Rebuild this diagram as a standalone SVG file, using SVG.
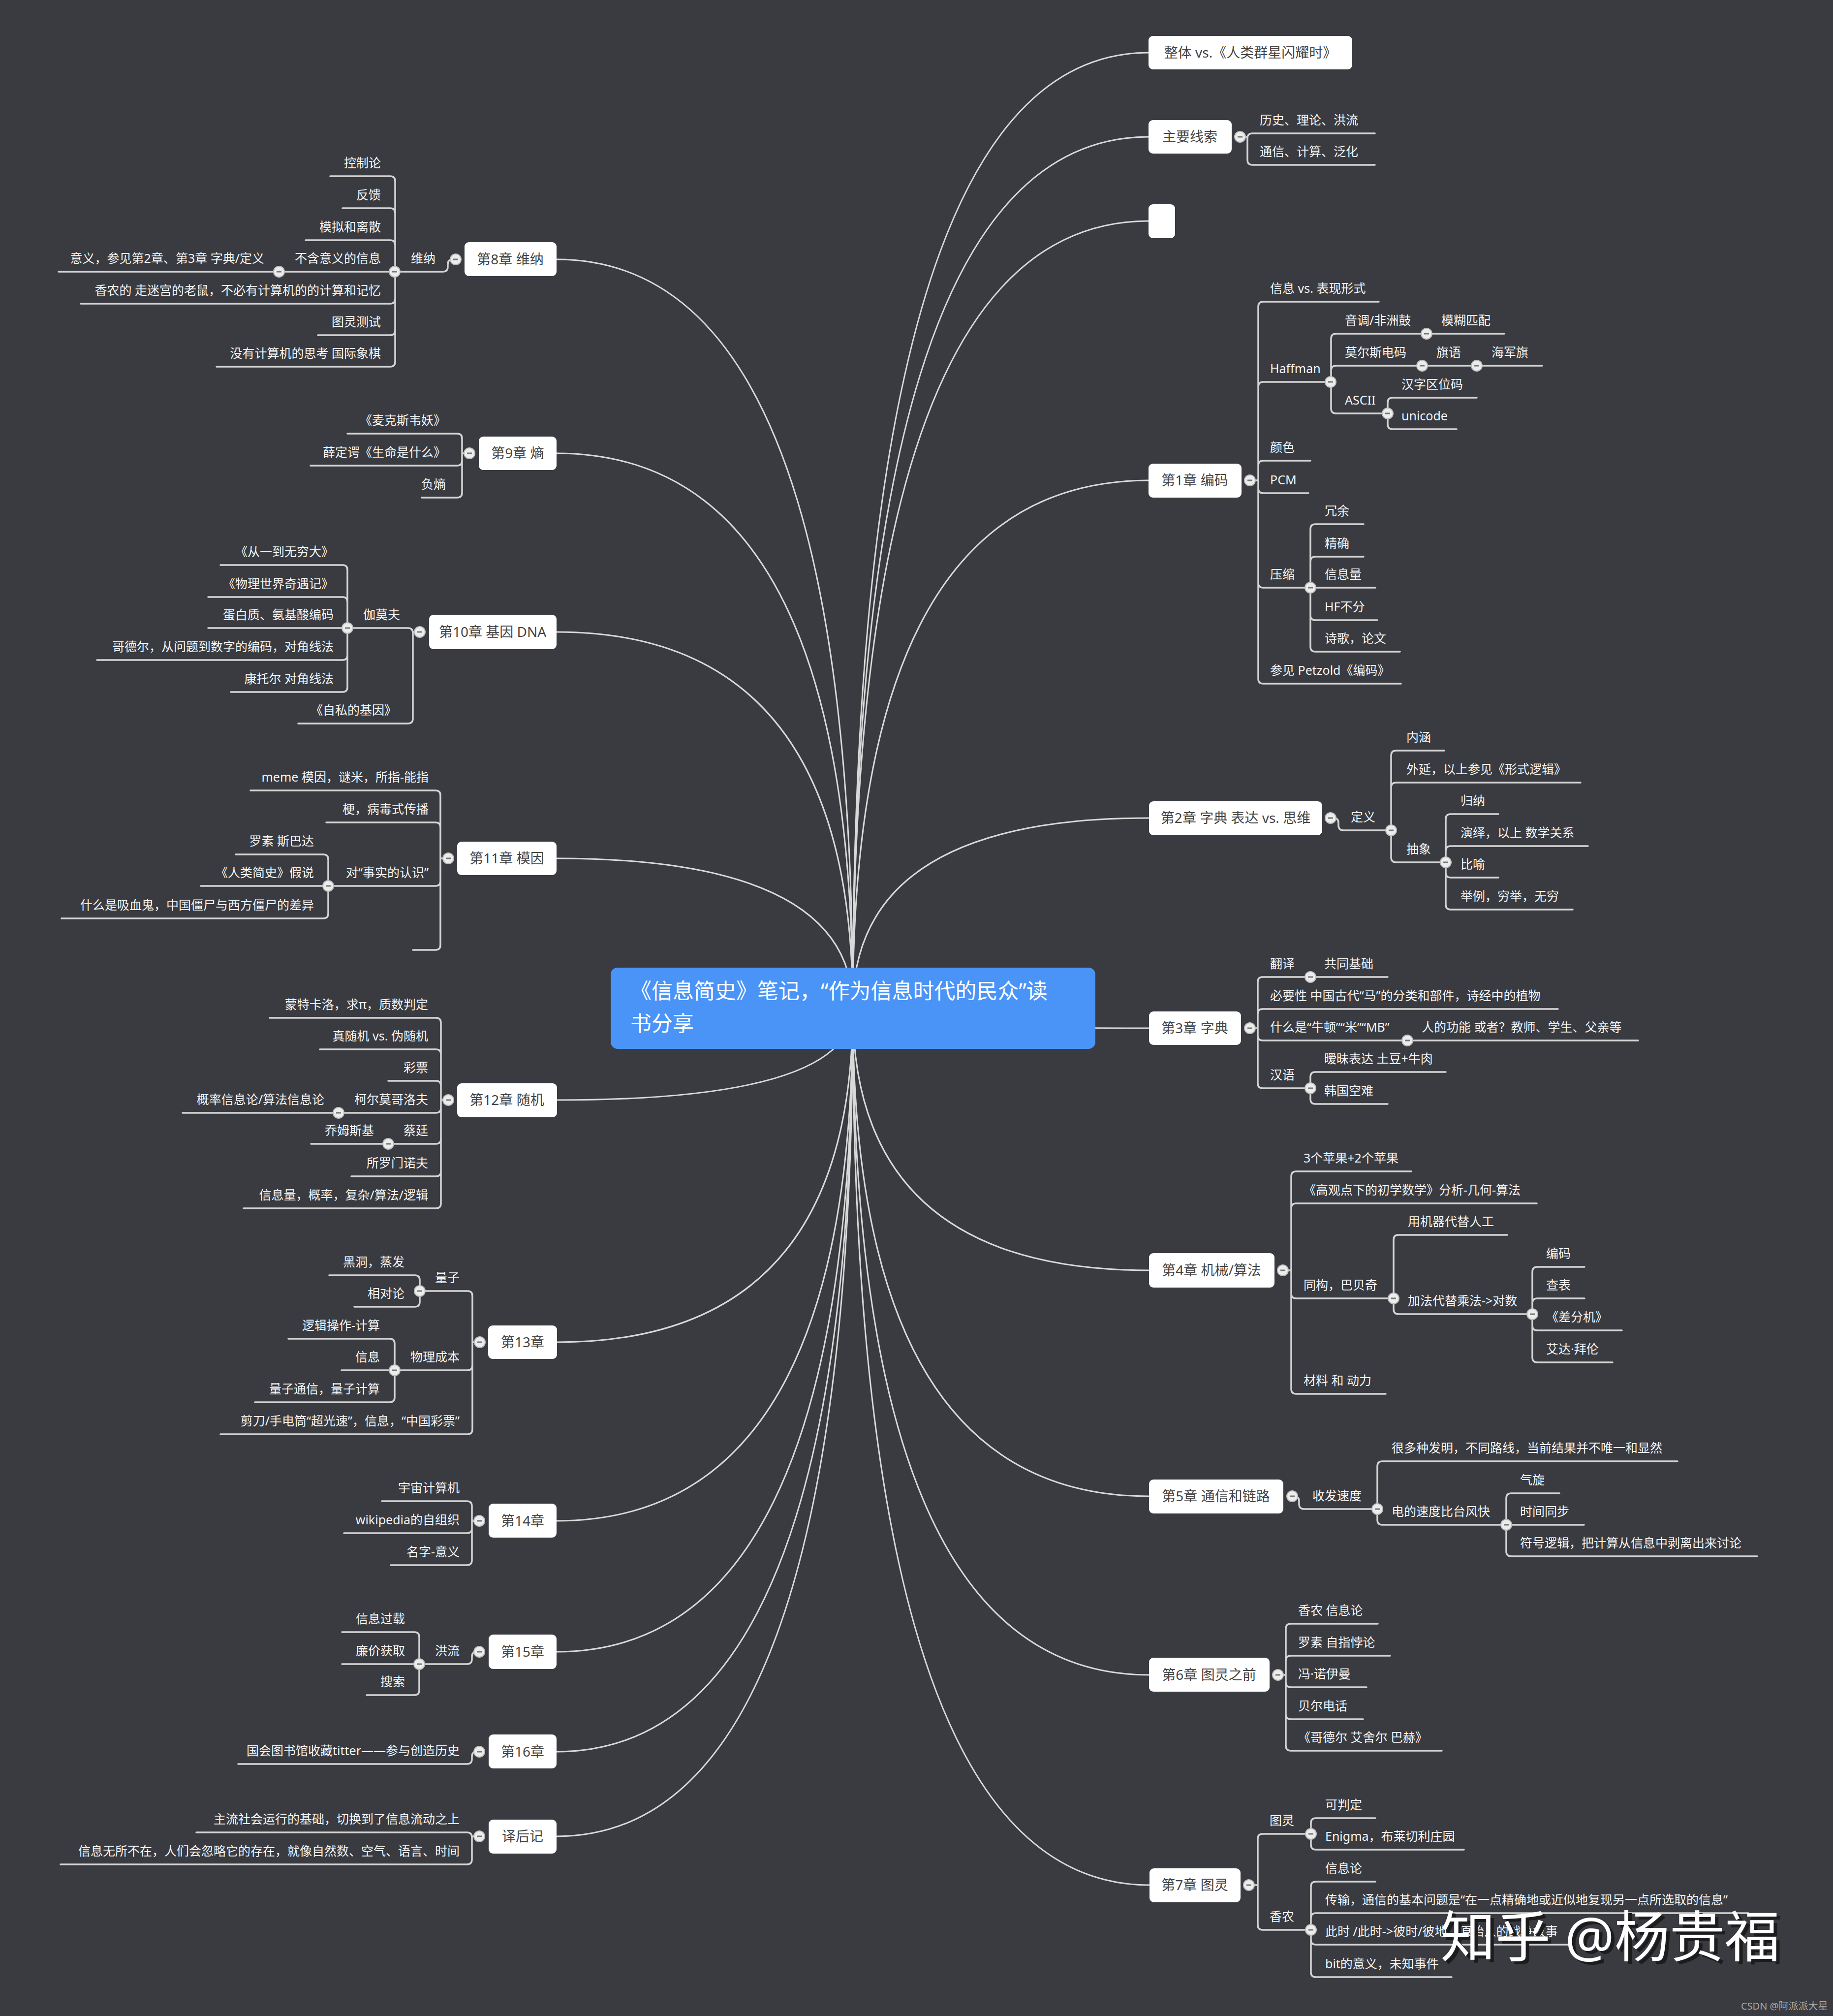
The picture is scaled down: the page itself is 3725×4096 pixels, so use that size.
<svg xmlns="http://www.w3.org/2000/svg" xmlns:xlink="http://www.w3.org/1999/xlink" width="3725" height="4096" viewBox="0 0 3725 4096">
<style>
text{font-family:'Noto Sans','Noto Sans CJK SC',sans-serif}
.cv{fill:none;stroke:#d9d9d9;stroke-width:3}
.ln{fill:none;stroke:#d4d4d4;stroke-width:3.5;stroke-linecap:round}
.box{fill:#ffffff}
.mt{font-size:28px;fill:#454545;text-anchor:middle}
.t{font-size:25px;fill:#f4f4f4}
.e{text-anchor:end}
</style>
<defs>
<g id="cb"><circle r="11" fill="#ececec" stroke="#bdbdbd" stroke-width="2"/><line x1="-5" y1="0" x2="5" y2="0" stroke="#777" stroke-width="3"/></g>
</defs>
<rect width="3725" height="4096" fill="#393b40"/>
<g id="connectors">
<g id="main-curves" class="cv">
<path d="M1733,2048 Q1733,107 2334,107"/>
<path d="M1733,2048 Q1733,278 2334,278"/>
<path d="M1733,2048 Q1733,449 2334,449"/>
<path d="M1733,2048 Q1733,976 2334,976"/>
<path d="M1733,2048 Q1733,1662 2335,1662"/>
<path d="M1733,2048 Q1733,2089 2335,2089"/>
<path d="M1733,2048 Q1733,2581 2335,2581"/>
<path d="M1733,2048 Q1733,3040 2335,3040"/>
<path d="M1733,2048 Q1733,3403 2335,3403"/>
<path d="M1733,2048 Q1733,3830 2336,3830"/>
<path d="M1733,2048 Q1733,527 1131,527"/>
<path d="M1733,2048 Q1733,921 1131,921"/>
<path d="M1733,2048 Q1733,1284 1131,1284"/>
<path d="M1733,2048 Q1733,1744 1131,1744"/>
<path d="M1733,2048 Q1733,2235 1132,2235"/>
<path d="M1733,2048 Q1733,2727 1132,2727"/>
<path d="M1733,2048 Q1733,3090 1131,3090"/>
<path d="M1733,2048 Q1733,3356 1131,3356"/>
<path d="M1733,2048 Q1733,3559 1131,3559"/>
<path d="M1733,2048 Q1733,3731 1131,3731"/>
</g>
<g id="branch-lines" class="ln">
<path d="M2520,278 H2535 M2535,281 Q2535,271 2545,271 H2794 M2535,281 V325 Q2535,335 2545,335 H2794"/>
<path d="M2540,976 H2557 M2557,623 V1379 M2557,623 Q2557,613 2567,613 H2802 M2557,786 Q2557,776 2567,776 H2704 M2557,946 Q2557,936 2567,936 H2663 M2557,992 Q2557,1002 2567,1002 H2659 M2557,1184 Q2557,1194 2567,1194 H2663 M2557,1379 Q2557,1389 2567,1389 H2847"/>
<path d="M2705,688 V830 M2705,688 Q2705,678 2715,678 H3057 M2705,753 Q2705,743 2715,743 H3134 M2705,830 Q2705,840 2715,840 H2820"/>
<path d="M2820,818 V862 M2820,818 Q2820,808 2830,808 H3001 M2820,862 Q2820,872 2830,872 H2960"/>
<path d="M2663,1075 V1314 M2663,1075 Q2663,1065 2673,1065 H2771 M2663,1141 Q2663,1131 2673,1131 H2771 M2663,1194 H2795 M2663,1250 Q2663,1260 2673,1260 H2799 M2663,1314 Q2663,1324 2673,1324 H2845"/>
<path d="M2704,1662 H2710 Q2720,1662 2720,1672 V1677 Q2720,1687 2730,1687 H2827"/>
<path d="M2827,1535 V1742 M2827,1535 Q2827,1525 2837,1525 H2935 M2827,1600 Q2827,1590 2837,1590 H3212 M2827,1742 Q2827,1752 2837,1752 H2938"/>
<path d="M2938,1664 V1838 M2938,1664 Q2938,1654 2948,1654 H3045 M2938,1729 Q2938,1719 2948,1719 H3227 M2938,1773 Q2938,1783 2948,1783 H3045 M2938,1838 Q2938,1848 2948,1848 H3196"/>
<path d="M2540,2089 H2556 M2556,1995 V2201 M2556,1995 Q2556,1985 2566,1985 H2820 M2556,2060 Q2556,2050 2566,2050 H3166 M2556,2104 Q2556,2114 2566,2114 H3329 M2556,2201 Q2556,2211 2566,2211 H2663"/>
<path d="M2663,2188 V2233 M2663,2188 Q2663,2178 2673,2178 H2938 M2663,2233 Q2663,2243 2673,2243 H2820"/>
<path d="M2607,2581 H2624 M2624,2390 V2822 M2624,2390 Q2624,2380 2634,2380 H2868 M2624,2455 Q2624,2445 2634,2445 H3123 M2624,2628 Q2624,2638 2634,2638 H2832 M2624,2822 Q2624,2832 2634,2832 H2816"/>
<path d="M2832,2519 V2660 M2832,2519 Q2832,2509 2842,2509 H3063 M2832,2660 Q2832,2670 2842,2670 H3114"/>
<path d="M3114,2584 V2758 M3114,2584 Q3114,2574 3124,2574 H3220 M3114,2648 Q3114,2638 3124,2638 H3220 M3114,2693 Q3114,2703 3124,2703 H3296 M3114,2758 Q3114,2768 3124,2768 H3277"/>
<path d="M2626,3040 H2630 Q2640,3040 2640,3050 V3056 Q2640,3066 2650,3066 H2799"/>
<path d="M2799,2979 V3088 M2799,2979 Q2799,2969 2809,2969 H3409 M2799,3088 Q2799,3098 2809,3098 H3061"/>
<path d="M3061,3044 V3152 M3061,3044 Q3061,3034 3071,3034 H3169 M3061,3098 H3219 M3061,3152 Q3061,3162 3071,3162 H3571"/>
<path d="M2597,3403 H2613 M2613,3309 V3547 M2613,3309 Q2613,3299 2623,3299 H2800 M2613,3374 Q2613,3364 2623,3364 H2825 M2613,3418 Q2613,3428 2623,3428 H2777 M2613,3483 Q2613,3493 2623,3493 H2770 M2613,3547 Q2613,3557 2623,3557 H2930"/>
<path d="M2538,3830 H2556 M2556,3736 V3911 M2556,3736 Q2556,3726 2566,3726 H2664 M2556,3911 Q2556,3921 2566,3921 H2664"/>
<path d="M2664,3704 V3748 M2664,3704 Q2664,3694 2674,3694 H2795 M2664,3748 Q2664,3758 2674,3758 H2975"/>
<path d="M2664,3833 V4007 M2664,3833 Q2664,3823 2674,3823 H2795 M2664,3897 Q2664,3887 2674,3887 H3553 M2664,3941 Q2664,3951 2674,3951 H3186 M2664,4007 Q2664,4017 2674,4017 H2950"/>
<path d="M926,527 H920 Q910,527 910,537 V542 Q910,552 900,552 H802"/>
<path d="M803,368 V735 M803,368 Q803,358 793,358 H671 M803,433 Q803,423 793,423 H696 M803,498 Q803,488 793,488 H621 M803,552 H119 M803,607 Q803,617 793,617 H164 M803,671 Q803,681 793,681 H646 M803,735 Q803,745 793,745 H440"/>
<path d="M954,921 H939 M939,891 V1001 M939,891 Q939,881 929,881 H706 M939,936 Q939,946 929,946 H631 M939,1001 Q939,1011 929,1011 H857"/>
<path d="M853,1284 H839 M839,1286 V1460 M839,1286 Q839,1276 829,1276 H706 M839,1460 Q839,1470 829,1470 H606"/>
<path d="M706,1158 V1396 M706,1158 Q706,1148 696,1148 H448 M706,1223 Q706,1213 696,1213 H423 M706,1276 H423 M706,1331 Q706,1341 696,1341 H197 M706,1396 Q706,1406 696,1406 H469"/>
<path d="M911,1744 H895 M895,1616 V1920 M895,1616 Q895,1606 885,1606 H509 M895,1681 Q895,1671 885,1671 H663 M895,1790 Q895,1800 885,1800 H667 M895,1920 Q895,1930 885,1930 H839"/>
<path d="M667,1746 V1856 M667,1746 Q667,1736 657,1736 H479 M667,1800 H408 M667,1856 Q667,1866 657,1866 H125"/>
<path d="M911,2235 H896 M896,2078 V2445 M896,2078 Q896,2068 886,2068 H548 M896,2142 Q896,2132 886,2132 H650 M896,2206 Q896,2196 886,2196 H789 M896,2251 Q896,2261 886,2261 H371 M896,2314 Q896,2324 886,2324 H632 M896,2380 Q896,2390 886,2390 H714 M896,2445 Q896,2455 886,2455 H495"/>
<path d="M975,2727 H960 M960,2633 V2904 M960,2633 Q960,2623 950,2623 H853 M960,2774 Q960,2784 950,2784 H802 M960,2904 Q960,2914 950,2914 H448"/>
<path d="M853,2601 V2645 M853,2601 Q853,2591 843,2591 H669 M853,2645 Q853,2655 843,2655 H720"/>
<path d="M802,2730 V2839 M802,2730 Q802,2720 792,2720 H586 M802,2784 H694 M802,2839 Q802,2849 792,2849 H518"/>
<path d="M974,3090 H959 M959,3060 V3170 M959,3060 Q959,3050 949,3050 H776 M959,3105 Q959,3115 949,3115 H699 M959,3170 Q959,3180 949,3180 H794"/>
<path d="M974,3356 H969 Q959,3356 959,3366 V3371 Q959,3381 949,3381 H852"/>
<path d="M852,3326 V3434 M852,3326 Q852,3316 842,3316 H695 M852,3381 H695 M852,3434 Q852,3444 842,3444 H745"/>
<path d="M974,3559 H969 Q959,3559 959,3569 V3574 Q959,3584 949,3584 H484"/>
<path d="M974,3731 H959 M959,3733 V3778 M959,3733 Q959,3723 949,3723 H399 M959,3778 Q959,3788 949,3788 H123"/>
</g>
<g id="collapse-buttons">
<use xlink:href="#cb" x="2520" y="278"/><use xlink:href="#cb" x="2540" y="976"/><use xlink:href="#cb" x="2704" y="776"/><use xlink:href="#cb" x="2899" y="678"/><use xlink:href="#cb" x="2890" y="743"/><use xlink:href="#cb" x="3001" y="743"/><use xlink:href="#cb" x="2820" y="840"/><use xlink:href="#cb" x="2663" y="1194"/><use xlink:href="#cb" x="2704" y="1662"/><use xlink:href="#cb" x="2827" y="1687"/><use xlink:href="#cb" x="2938" y="1752"/><use xlink:href="#cb" x="2540" y="2089"/><use xlink:href="#cb" x="2663" y="1985"/><use xlink:href="#cb" x="2860" y="2114"/><use xlink:href="#cb" x="2663" y="2211"/><use xlink:href="#cb" x="2607" y="2581"/><use xlink:href="#cb" x="2832" y="2638"/><use xlink:href="#cb" x="3114" y="2670"/><use xlink:href="#cb" x="2626" y="3040"/><use xlink:href="#cb" x="2799" y="3066"/><use xlink:href="#cb" x="3061" y="3098"/><use xlink:href="#cb" x="2597" y="3403"/><use xlink:href="#cb" x="2538" y="3830"/><use xlink:href="#cb" x="2664" y="3726"/><use xlink:href="#cb" x="2664" y="3921"/>
<use xlink:href="#cb" x="926" y="527"/><use xlink:href="#cb" x="802" y="552"/><use xlink:href="#cb" x="567" y="552"/><use xlink:href="#cb" x="954" y="921"/><use xlink:href="#cb" x="853" y="1284"/><use xlink:href="#cb" x="706" y="1276"/><use xlink:href="#cb" x="911" y="1744"/><use xlink:href="#cb" x="667" y="1800"/><use xlink:href="#cb" x="911" y="2235"/><use xlink:href="#cb" x="688" y="2261"/><use xlink:href="#cb" x="789" y="2324"/><use xlink:href="#cb" x="975" y="2727"/><use xlink:href="#cb" x="853" y="2623"/><use xlink:href="#cb" x="802" y="2784"/><use xlink:href="#cb" x="974" y="3090"/><use xlink:href="#cb" x="974" y="3356"/><use xlink:href="#cb" x="852" y="3381"/><use xlink:href="#cb" x="974" y="3559"/><use xlink:href="#cb" x="974" y="3731"/>
</g>
</g>
<g id="root"><rect x="1241" y="1966" width="985" height="165" rx="14" fill="#4a94f7"/><text x="1281" y="2029" font-size="43" fill="#ffffff">《信息简史》笔记，“作为信息时代的民众”读</text><text x="1281" y="2095" font-size="43" fill="#ffffff">书分享</text></g>
<g id="main-nodes">
<g id="n-whole"><rect class="box" x="2334" y="73" width="414" height="68" rx="9"/><text class="mt" x="2541" y="117">整体 vs.《人类群星闪耀时》</text></g>
<g id="n-clues"><rect class="box" x="2334" y="244" width="169" height="68" rx="9"/><text class="mt" x="2418" y="288">主要线索</text></g>
<g id="n-empty"><rect class="box" x="2334" y="415" width="54" height="69" rx="9"/></g>
<g id="n-ch1"><rect class="box" x="2334" y="942" width="189" height="69" rx="9"/><text class="mt" x="2428" y="986">第1章 编码</text></g>
<g id="n-ch2"><rect class="box" x="2335" y="1628" width="352" height="69" rx="9"/><text class="mt" x="2511" y="1672">第2章 字典 表达 vs. 思维</text></g>
<g id="n-ch3"><rect class="box" x="2335" y="2055" width="187" height="68" rx="9"/><text class="mt" x="2428" y="2099">第3章 字典</text></g>
<g id="n-ch4"><rect class="box" x="2335" y="2546" width="255" height="70" rx="9"/><text class="mt" x="2462" y="2591">第4章 机械/算法</text></g>
<g id="n-ch5"><rect class="box" x="2335" y="3006" width="273" height="69" rx="9"/><text class="mt" x="2471" y="3050">第5章 通信和链路</text></g>
<g id="n-ch6"><rect class="box" x="2335" y="3368" width="245" height="69" rx="9"/><text class="mt" x="2457" y="3413">第6章 图灵之前</text></g>
<g id="n-ch7"><rect class="box" x="2336" y="3796" width="185" height="69" rx="9"/><text class="mt" x="2428" y="3840">第7章 图灵</text></g>
<g id="n-ch8"><rect class="box" x="944" y="492" width="187" height="69" rx="9"/><text class="mt" x="1037" y="537">第8章 维纳</text></g>
<g id="n-ch9"><rect class="box" x="973" y="887" width="158" height="68" rx="9"/><text class="mt" x="1052" y="931">第9章 熵</text></g>
<g id="n-ch10"><rect class="box" x="872" y="1249" width="259" height="70" rx="9"/><text class="mt" x="1001" y="1294">第10章 基因 DNA</text></g>
<g id="n-ch11"><rect class="box" x="929" y="1710" width="202" height="68" rx="9"/><text class="mt" x="1030" y="1754">第11章 模因</text></g>
<g id="n-ch12"><rect class="box" x="929" y="2201" width="203" height="69" rx="9"/><text class="mt" x="1030" y="2245">第12章 随机</text></g>
<g id="n-ch13"><rect class="box" x="992" y="2693" width="140" height="68" rx="9"/><text class="mt" x="1062" y="2737">第13章</text></g>
<g id="n-ch14"><rect class="box" x="993" y="3055" width="138" height="69" rx="9"/><text class="mt" x="1062" y="3100">第14章</text></g>
<g id="n-ch15"><rect class="box" x="993" y="3321" width="138" height="70" rx="9"/><text class="mt" x="1062" y="3366">第15章</text></g>
<g id="n-ch16"><rect class="box" x="993" y="3524" width="138" height="69" rx="9"/><text class="mt" x="1062" y="3569">第16章</text></g>
<g id="n-after"><rect class="box" x="993" y="3697" width="138" height="69" rx="9"/><text class="mt" x="1062" y="3741">译后记</text></g>
</g>
<g id="sub-nodes" class="t">
<g id="s-c1"><text class="t" x="2560" y="253">历史、理论、洪流</text></g>
<g id="s-c2"><text class="t" x="2560" y="317">通信、计算、泛化</text></g>
<g id="s-1a"><text class="t" x="2581" y="595">信息 vs. 表现形式</text></g>
<g id="s-1b"><text class="t" x="2581" y="758">Haffman</text></g>
<g id="s-1b1"><text class="t" x="2733" y="660">音调/非洲鼓</text></g>
<g id="s-1b1a"><text class="t" x="2929" y="660">模糊匹配</text></g>
<g id="s-1b2"><text class="t" x="2733" y="725">莫尔斯电码</text></g>
<g id="s-1b2a"><text class="t" x="2919" y="725">旗语</text></g>
<g id="s-1b2b"><text class="t" x="3031" y="725">海军旗</text></g>
<g id="s-1b3"><text class="t" x="2733" y="822">ASCII</text></g>
<g id="s-1b3a"><text class="t" x="2848" y="790">汉字区位码</text></g>
<g id="s-1b3b"><text class="t" x="2848" y="854">unicode</text></g>
<g id="s-1c"><text class="t" x="2581" y="918">颜色</text></g>
<g id="s-1d"><text class="t" x="2581" y="984">PCM</text></g>
<g id="s-1e"><text class="t" x="2581" y="1176">压缩</text></g>
<g id="s-1e1"><text class="t" x="2692" y="1047">冗余</text></g>
<g id="s-1e2"><text class="t" x="2692" y="1113">精确</text></g>
<g id="s-1e3"><text class="t" x="2692" y="1176">信息量</text></g>
<g id="s-1e4"><text class="t" x="2692" y="1242">HF不分</text></g>
<g id="s-1e5"><text class="t" x="2692" y="1306">诗歌，论文</text></g>
<g id="s-1f"><text class="t" x="2581" y="1371">参见 Petzold《编码》</text></g>
<g id="s-2a"><text class="t" x="2745" y="1669">定义</text></g>
<g id="s-2a1"><text class="t" x="2858" y="1507">内涵</text></g>
<g id="s-2a2"><text class="t" x="2858" y="1572">外延，以上参见《形式逻辑》</text></g>
<g id="s-2a3"><text class="t" x="2858" y="1734">抽象</text></g>
<g id="s-2a3a"><text class="t" x="2968" y="1636">归纳</text></g>
<g id="s-2a3b"><text class="t" x="2968" y="1701">演绎，以上 数学关系</text></g>
<g id="s-2a3c"><text class="t" x="2968" y="1765">比喻</text></g>
<g id="s-2a3d"><text class="t" x="2968" y="1830">举例，穷举，无穷</text></g>
<g id="s-3a"><text class="t" x="2581" y="1967">翻译</text></g>
<g id="s-3a1"><text class="t" x="2691" y="1967">共同基础</text></g>
<g id="s-3b"><text class="t" x="2581" y="2032">必要性 中国古代“马”的分类和部件，诗经中的植物</text></g>
<g id="s-3c"><text class="t" x="2581" y="2096">什么是“牛顿”“米”“MB”</text></g>
<g id="s-3c1"><text class="t" x="2889" y="2096">人的功能 或者？教师、学生、父亲等</text></g>
<g id="s-3d"><text class="t" x="2581" y="2193">汉语</text></g>
<g id="s-3d1"><text class="t" x="2691" y="2160">暧昧表达 土豆+牛肉</text></g>
<g id="s-3d2"><text class="t" x="2691" y="2225">韩国空难</text></g>
<g id="s-4a"><text class="t" x="2649" y="2362">3个苹果+2个苹果</text></g>
<g id="s-4b"><text class="t" x="2649" y="2427">《高观点下的初学数学》分析-几何-算法</text></g>
<g id="s-4c"><text class="t" x="2649" y="2620">同构，巴贝奇</text></g>
<g id="s-4c1"><text class="t" x="2861" y="2491">用机器代替人工</text></g>
<g id="s-4c2"><text class="t" x="2861" y="2652">加法代替乘法-&gt;对数</text></g>
<g id="s-4c2a"><text class="t" x="3142" y="2556">编码</text></g>
<g id="s-4c2b"><text class="t" x="3142" y="2620">查表</text></g>
<g id="s-4c2c"><text class="t" x="3142" y="2685">《差分机》</text></g>
<g id="s-4c2d"><text class="t" x="3142" y="2750">艾达·拜伦</text></g>
<g id="s-4d"><text class="t" x="2649" y="2814">材料 和 动力</text></g>
<g id="s-5a"><text class="t" x="2667" y="3048">收发速度</text></g>
<g id="s-5a1"><text class="t" x="2828" y="2951">很多种发明，不同路线，当前结果并不唯一和显然</text></g>
<g id="s-5a2"><text class="t" x="2828" y="3080">电的速度比台风快</text></g>
<g id="s-5a2a"><text class="t" x="3089" y="3016">气旋</text></g>
<g id="s-5a2b"><text class="t" x="3089" y="3080">时间同步</text></g>
<g id="s-5a2c"><text class="t" x="3089" y="3144">符号逻辑，把计算从信息中剥离出来讨论</text></g>
<g id="s-6a"><text class="t" x="2638" y="3281">香农 信息论</text></g>
<g id="s-6b"><text class="t" x="2638" y="3346">罗素 自指悖论</text></g>
<g id="s-6c"><text class="t" x="2638" y="3410">冯·诺伊曼</text></g>
<g id="s-6d"><text class="t" x="2638" y="3475">贝尔电话</text></g>
<g id="s-6e"><text class="t" x="2638" y="3539">《哥德尔 艾舍尔 巴赫》</text></g>
<g id="s-7a"><text class="t" x="2580" y="3708">图灵</text></g>
<g id="s-7a1"><text class="t" x="2693" y="3676">可判定</text></g>
<g id="s-7a2"><text class="t" x="2693" y="3740">Enigma，布莱切利庄园</text></g>
<g id="s-7b"><text class="t" x="2580" y="3903">香农</text></g>
<g id="s-7b1"><text class="t" x="2693" y="3805">信息论</text></g>
<g id="s-7b2"><text class="t" x="2693" y="3869">传输，通信的基本问题是“在一点精确地或近似地复现另一点所选取的信息”</text></g>
<g id="s-7b3"><text class="t" x="2693" y="3933">此时 /此时-&gt;彼时/彼地，原始人的战争故事</text></g>
<g id="s-7b4"><text class="t" x="2693" y="3999">bit的意义，未知事件</text></g>
<g id="s-8a"><text class="t e" x="885" y="534">维纳</text></g>
<g id="s-8a1"><text class="t e" x="774" y="340">控制论</text></g>
<g id="s-8a2"><text class="t e" x="774" y="405">反馈</text></g>
<g id="s-8a3"><text class="t e" x="774" y="470">模拟和离散</text></g>
<g id="s-8a4"><text class="t e" x="774" y="534">不含意义的信息</text></g>
<g id="s-8a4a"><text class="t e" x="537" y="534">意义，参见第2章、第3章 字典/定义</text></g>
<g id="s-8a5"><text class="t e" x="774" y="599">香农的 走迷宫的老鼠，不必有计算机的的计算和记忆</text></g>
<g id="s-8a6"><text class="t e" x="774" y="663">图灵测试</text></g>
<g id="s-8a7"><text class="t e" x="774" y="727">没有计算机的思考 国际象棋</text></g>
<g id="s-9a"><text class="t e" x="906" y="863">《麦克斯韦妖》</text></g>
<g id="s-9b"><text class="t e" x="906" y="928">薛定谔《生命是什么》</text></g>
<g id="s-9c"><text class="t e" x="906" y="993">负熵</text></g>
<g id="s-10a"><text class="t e" x="813" y="1258">伽莫夫</text></g>
<g id="s-10a1"><text class="t e" x="678" y="1130">《从一到无穷大》</text></g>
<g id="s-10a2"><text class="t e" x="678" y="1195">《物理世界奇遇记》</text></g>
<g id="s-10a3"><text class="t e" x="678" y="1258">蛋白质、氨基酸编码</text></g>
<g id="s-10a4"><text class="t e" x="678" y="1323">哥德尔，从问题到数字的编码，对角线法</text></g>
<g id="s-10a5"><text class="t e" x="678" y="1388">康托尔 对角线法</text></g>
<g id="s-10b"><text class="t e" x="806" y="1452">《自私的基因》</text></g>
<g id="s-11a"><text class="t e" x="871" y="1588">meme 模因，谜米，所指-能指</text></g>
<g id="s-11b"><text class="t e" x="871" y="1653">梗，病毒式传播</text></g>
<g id="s-11c"><text class="t e" x="871" y="1782">对“事实的认识”</text></g>
<g id="s-11c1"><text class="t e" x="638" y="1718">罗素 斯巴达</text></g>
<g id="s-11c2"><text class="t e" x="638" y="1782">《人类简史》假说</text></g>
<g id="s-11c3"><text class="t e" x="638" y="1848">什么是吸血鬼，中国僵尸与西方僵尸的差异</text></g>
<g id="s-12a"><text class="t e" x="870" y="2050">蒙特卡洛，求π，质数判定</text></g>
<g id="s-12b"><text class="t e" x="870" y="2114">真随机 vs. 伪随机</text></g>
<g id="s-12c"><text class="t e" x="870" y="2178">彩票</text></g>
<g id="s-12d"><text class="t e" x="870" y="2243">柯尔莫哥洛夫</text></g>
<g id="s-12d1"><text class="t e" x="659" y="2243">概率信息论/算法信息论</text></g>
<g id="s-12e"><text class="t e" x="870" y="2306">蔡廷</text></g>
<g id="s-12e1"><text class="t e" x="760" y="2306">乔姆斯基</text></g>
<g id="s-12f"><text class="t e" x="870" y="2372">所罗门诺夫</text></g>
<g id="s-12g"><text class="t e" x="870" y="2437">信息量，概率，复杂/算法/逻辑</text></g>
<g id="s-13a"><text class="t e" x="934" y="2605">量子</text></g>
<g id="s-13a1"><text class="t e" x="822" y="2573">黑洞，蒸发</text></g>
<g id="s-13a2"><text class="t e" x="822" y="2637">相对论</text></g>
<g id="s-13b"><text class="t e" x="934" y="2766">物理成本</text></g>
<g id="s-13b1"><text class="t e" x="772" y="2702">逻辑操作-计算</text></g>
<g id="s-13b2"><text class="t e" x="772" y="2766">信息</text></g>
<g id="s-13b3"><text class="t e" x="772" y="2831">量子通信，量子计算</text></g>
<g id="s-13c"><text class="t e" x="934" y="2896">剪刀/手电筒“超光速”，信息，“中国彩票”</text></g>
<g id="s-14a"><text class="t e" x="934" y="3032">宇宙计算机</text></g>
<g id="s-14b"><text class="t e" x="934" y="3097">wikipedia的自组织</text></g>
<g id="s-14c"><text class="t e" x="934" y="3162">名字-意义</text></g>
<g id="s-15a"><text class="t e" x="934" y="3363">洪流</text></g>
<g id="s-15a1"><text class="t e" x="823" y="3298">信息过载</text></g>
<g id="s-15a2"><text class="t e" x="823" y="3363">廉价获取</text></g>
<g id="s-15a3"><text class="t e" x="823" y="3426">搜索</text></g>
<g id="s-16a"><text class="t e" x="934" y="3566">国会图书馆收藏titter——参与创造历史</text></g>
<g id="s-ya"><text class="t e" x="934" y="3705">主流社会运行的基础，切换到了信息流动之上</text></g>
<g id="s-yb"><text class="t e" x="934" y="3770">信息无所不在，人们会忽略它的存在，就像自然数、空气、语言、时间</text></g>
</g>
<g id="watermark">
<text x="2934" y="3982" font-size="112" fill="#1c1c1e">知乎 @杨贵福</text>
<text x="2927" y="3976" font-size="112" fill="#ffffff">知乎 @杨贵福</text>
<text x="3538" y="4083" font-size="20" fill="#a8a8a8">CSDN @阿派派大星</text>
</g>
</svg>
